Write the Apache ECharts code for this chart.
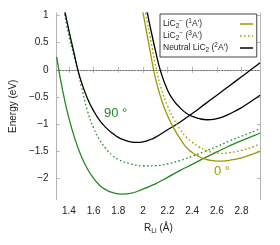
<!DOCTYPE html>
<html>
<head>
<meta charset="utf-8">
<script src="https://cdn.jsdelivr.net/npm/echarts@6/dist/echarts.min.js"></script>
<style>html,body{margin:0;padding:0;background:#fff}#c{width:280px;height:245px}</style>
</head>
<body>
<div id="c"></div>
<script>
// ---- data ----
// 90 deg, LiC2- (1A') green solid
const r90_1 = [1.30,1.35,1.40,1.45,1.50,1.55,1.60,1.65,1.70,1.75,1.83,1.90,2.00,2.10,2.20,2.30,2.40,2.50,2.60,2.70,2.80,2.90,2.95];
const e90_1 = [0.24,-0.40,-0.90,-1.29,-1.60,-1.835,-2.01,-2.14,-2.22,-2.27,-2.30,-2.285,-2.21,-2.11,-1.99,-1.865,-1.75,-1.63,-1.52,-1.41,-1.31,-1.22,-1.17];
// 90 deg, LiC2- (3A') green dotted
const r90_3 = [1.36,1.40,1.44,1.47,1.50,1.55,1.60,1.65,1.70,1.75,1.80,1.90,2.00,2.10,2.20,2.30,2.40,2.50,2.60,2.70,2.80,2.95];
const e90_3 = [1.10,0.62,0.26,0.0,-0.30,-0.76,-1.08,-1.30,-1.46,-1.58,-1.66,-1.74,-1.78,-1.775,-1.74,-1.68,-1.60,-1.51,-1.42,-1.32,-1.23,-1.09];
// 90 deg, neutral LiC2 (2A') black
const r90_n = [1.36,1.40,1.44,1.472,1.50,1.55,1.60,1.65,1.70,1.75,1.80,1.85,1.90,1.95,2.00,2.05,2.10,2.20,2.30,2.40,2.50,2.60,2.70,2.80,2.90,2.95];
const e90_n = [1.15,0.72,0.32,0.0,-0.22,-0.53,-0.76,-0.94,-1.07,-1.17,-1.25,-1.30,-1.335,-1.345,-1.335,-1.30,-1.25,-1.11,-0.97,-0.81,-0.64,-0.47,-0.30,-0.13,0.04,0.13];
// 0 deg, LiC2- (1A') olive solid
const r0_1 = [1.99,2.00,2.05,2.10,2.15,2.20,2.25,2.30,2.35,2.40,2.45,2.50,2.55,2.60,2.65,2.70,2.80,2.90,2.95];
const e0_1 = [1.20,1.07,0.45,-0.14,-0.55,-0.85,-1.08,-1.27,-1.43,-1.53,-1.60,-1.65,-1.675,-1.69,-1.69,-1.675,-1.63,-1.55,-1.51];
// 0 deg, LiC2- (3A') olive dotted
const r0_3 = [2.01,2.02,2.07,2.11,2.15,2.20,2.25,2.30,2.35,2.40,2.45,2.50,2.55,2.60,2.65,2.70,2.80,2.90,2.95];
const e0_3 = [1.20,1.07,0.47,0.0,-0.36,-0.67,-0.91,-1.10,-1.24,-1.34,-1.42,-1.48,-1.52,-1.54,-1.545,-1.535,-1.49,-1.42,-1.37];
// 0 deg, neutral LiC2 (2A') black
const r0_n = [2.025,2.035,2.07,2.105,2.14,2.20,2.25,2.30,2.35,2.40,2.45,2.52,2.60,2.65,2.70,2.80,2.90,2.95];
const e0_n = [1.20,1.06,0.68,0.32,0.0,-0.38,-0.57,-0.70,-0.80,-0.86,-0.90,-0.925,-0.905,-0.87,-0.82,-0.70,-0.55,-0.47];

const xTicks = [1.4,1.6,1.8,2.0,2.2,2.4,2.6,2.8];
const yTicks = [-2,-1.5,-1,-0.5,0,0.5,1];
const zeroLevel = 0;

const FONT = 'Liberation Sans';
const GREEN = '#228b22';
const OLIVE = '#9a9a00';
const BLACK = '#000000';
const AXISC = '#b4b4b4';

const zip = (xs, ys) => xs.map((x, i) => [x, ys[i]]);

function line(name, xs, ys, color, dotted) {
  return {
    name: name, type: 'line', data: zip(xs, ys),
    smooth: true, symbol: 'none', showSymbol: false,
    lineStyle: {color: color, width: 1.3, type: dotted ? [1.6, 2.4] : 'solid'},
    itemStyle: {color: color},
    emphasis: {disabled: true}, silent: true, animation: false
  };
}

const legendNames = {
  s1: '{t|LiC}{sub|2}{sup|−}{t| (}{sup|1}{t|A\u2032)}',
  s3: '{t|LiC}{sub|2}{sup|−}{t| (}{sup|3}{t|A\u2032)}',
  n:  '{t|Neutral LiC}{sub|2}{t| (}{sup|2}{t|A\u2032)}'
};

const chart = echarts.init(document.getElementById('c'), null, {renderer: 'canvas'});

const series = [
  line('g1', r90_1, e90_1, GREEN, false),
  line('g3', r90_3, e90_3, GREEN, true),
  line('b90', r90_n, e90_n, BLACK, false),
  line('s1', r0_1, e0_1, OLIVE, false),
  line('s3', r0_3, e0_3, OLIVE, true),
  line('n', r0_n, e0_n, BLACK, false)
];
series[0].markLine = {
  silent: true, symbol: 'none', label: {show: false},
  lineStyle: {color: '#222', type: [1, 2], width: 0.8},
  data: [{yAxis: zeroLevel}]
};

const axisCommon = {
  type: 'value',
  splitLine: {show: false},
  axisLine: {show: true, lineStyle: {color: AXISC, width: 1}},
  axisTick: {show: true, inside: true, length: 3, lineStyle: {color: AXISC}},
};

chart.setOption({
  animation: false,
  backgroundColor: '#fff',
  grid: {left: 46, right: 20, top: 13, bottom: 45.5, containLabel: false},
  xAxis: [
    Object.assign({}, axisCommon, {
      min: 1.3, max: 2.95, position: 'bottom',
      axisTick: {show: true, inside: true, length: 3, lineStyle: {color: AXISC}, customValues: xTicks},
      axisLabel: {customValues: xTicks, fontFamily: FONT, fontSize: 10, color: '#222', margin: 7,
        formatter: v => (Math.round(v * 10) / 10).toString()},
      name: '{t|R}{sub|Li}{t| (Å)}', nameLocation: 'middle', nameGap: 23,
      nameTextStyle: {rich: {
        t: {fontFamily: FONT, fontSize: 10, color: '#222', lineHeight: 12},
        sub: {fontFamily: FONT, fontSize: 7, color: '#222', padding: [5, 0, 0, 0], lineHeight: 12}
      }}
    }),
    Object.assign({}, axisCommon, {
      min: 1.3, max: 2.95, position: 'top',
      axisTick: {show: true, inside: true, length: 3, lineStyle: {color: AXISC}, customValues: xTicks},
      axisLabel: {show: false}
    })
  ],
  yAxis: [
    Object.assign({}, axisCommon, {
      min: -2.4, max: 1.05, position: 'left',
      axisTick: {show: true, inside: true, length: 3, lineStyle: {color: AXISC}, customValues: yTicks},
      axisLabel: {customValues: yTicks, fontFamily: FONT, fontSize: 10, color: '#222', margin: 8,
        formatter: v => String(v).replace('-', '\u2212')},
      name: 'Energy (eV)', nameLocation: 'middle', nameGap: 31, nameRotate: 90,
      nameTextStyle: {fontFamily: FONT, fontSize: 10, color: '#222'}
    }),
    Object.assign({}, axisCommon, {
      min: -2.4, max: 1.05, position: 'right',
      axisTick: {show: true, inside: true, length: 3, lineStyle: {color: AXISC}, customValues: yTicks},
      axisLabel: {show: false}
    })
  ],
  legend: {
    left: 160, top: 14, orient: 'vertical', align: 'right',
    itemWidth: 13, itemHeight: 10, itemGap: 0,
    padding: [4, 3, 3, 3],
    borderColor: '#444', borderWidth: 1, backgroundColor: '#fff',
    selectedMode: false,
    itemStyle: {opacity: 0, borderWidth: 0},
    lineStyle: {width: 1.5},
    data: ['s1', 's3', 'n'],
    formatter: n => legendNames[n],
    textStyle: {
      width: 72, fontFamily: FONT, fontSize: 8.5, color: '#222', lineHeight: 10,
      rich: {
        t: {align: 'left', fontFamily: FONT, fontSize: 8.5, color: '#222', lineHeight: 10},
        sub: {align: 'left', fontFamily: FONT, fontSize: 6.5, color: '#222', padding: [4, 0, 0, 0], lineHeight: 10},
        sup: {align: 'left', fontFamily: FONT, fontSize: 6.5, color: '#222', padding: [0, 0, 5, 0], lineHeight: 10}
      }
    }
  },
  graphic: [
    {type: 'text', left: 104, top: 107, silent: true,
     style: {text: '90 °', fill: GREEN, font: '13px "Liberation Sans"'}},
    {type: 'text', left: 214, top: 165, silent: true,
     style: {text: '0 °', fill: OLIVE, font: '13px "Liberation Sans"'}}
  ],
  series: series
});
</script>
</body>
</html>
